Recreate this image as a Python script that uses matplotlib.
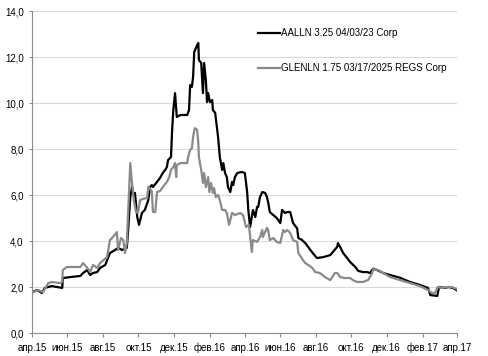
import numpy as np
import matplotlib
matplotlib.use('Agg')
import matplotlib.pyplot as plt

plt.rcParams['font.family'] = ['Liberation Sans', 'DejaVu Sans']

# days since 2015-04-01, yield values
aal_days = [0, 9, 17, 22, 34, 52, 53, 65, 83, 88, 95, 100, 105, 112, 117, 126, 134, 143, 148, 155,
            163, 165, 169, 172, 174, 177, 181, 184, 189, 194, 200, 203, 206, 208, 215, 220, 225, 229,
            232, 234, 239, 241, 243, 246, 249, 255, 267, 270, 272, 275, 277, 279, 284, 286, 287, 291,
            294, 296, 299, 301, 303, 306, 310, 311, 315, 318, 320, 323, 327, 329, 332, 335, 337, 341,
            344, 346, 349, 353, 361, 366, 370, 372, 375, 380, 384, 387, 389, 392, 396, 401, 404, 406,
            409, 413, 421, 427, 430, 435, 439, 444, 449, 456, 458, 464, 470, 482, 490, 501, 513, 516,
            525, 526, 530, 535, 542, 547, 556, 561, 569, 576, 581, 587, 593, 604, 616, 633, 650, 667,
            681, 685, 697, 700, 710, 716, 724, 731]
aal_vals = [1.78, 1.87, 1.74, 1.96, 2.04, 1.96, 2.39, 2.43, 2.48, 2.61, 2.74, 2.52, 2.61, 2.65, 2.83,
            2.96, 3.48, 3.61, 3.70, 3.61, 3.70, 4.35, 5.91, 6.35, 6.09, 6.09, 5.04, 4.70, 5.22, 5.35,
            5.78, 6.35, 6.43, 6.35, 6.57, 6.74, 6.96, 7.09, 7.22, 7.52, 7.65, 8.83, 9.70, 10.43, 9.39,
            9.48, 9.48, 9.70, 10.78, 10.70, 11.13, 12.22, 12.52, 12.61, 11.87, 11.74, 10.43, 11.74,
            11.00, 10.04, 10.43, 10.04, 10.13, 9.70, 9.57, 8.96, 8.52, 7.65, 7.09, 7.39, 6.96, 6.78,
            6.35, 6.13, 6.57, 6.43, 6.78, 6.96, 7.00, 6.96, 6.13, 5.35, 4.61, 5.35, 5.04, 5.48, 5.48,
            5.91, 6.13, 6.09, 5.91, 5.70, 5.26, 5.17, 5.00, 4.78, 5.35, 5.22, 5.26, 5.26, 4.78, 4.55,
            4.13, 4.05, 3.91, 3.50, 3.26, 3.30, 3.39, 3.48, 3.75, 3.91, 3.74, 3.48, 3.26, 3.09, 2.87,
            2.70, 2.65, 2.65, 2.61, 2.80, 2.74, 2.61, 2.52, 2.40, 2.22, 2.09, 1.96, 1.65, 1.61, 2.00,
            1.96, 2.00, 1.96, 1.85]

glen_days = [0, 10, 19, 28, 34, 48, 52, 53, 60, 83, 88, 95, 100, 105, 112, 117, 129, 134, 139, 146,
             148, 153, 157, 160, 163, 165, 169, 172, 175, 179, 182, 186, 191, 198, 200, 206, 208, 212,
             215, 220, 225, 232, 236, 239, 243, 246, 248, 249, 255, 267, 268, 272, 275, 277, 280, 284,
             286, 287, 291, 294, 296, 299, 303, 305, 308, 311, 313, 316, 320, 323, 327, 332, 335, 339,
             344, 349, 358, 363, 368, 373, 378, 380, 387, 392, 396, 397, 404, 406, 409, 415, 421, 427,
             432, 435, 439, 444, 449, 456, 458, 466, 470, 475, 482, 487, 495, 504, 513, 521, 525, 530,
             538, 547, 552, 559, 569, 578, 585, 587, 595, 604, 616, 633, 650, 667, 681, 688, 693, 698,
             705, 714, 722, 731]
glen_vals = [1.74, 1.87, 1.78, 2.17, 2.22, 2.17, 2.22, 2.74, 2.87, 2.87, 3.04, 2.83, 2.65, 2.96, 2.83,
             3.04, 3.30, 4.04, 4.17, 4.39, 3.61, 4.13, 4.04, 3.48, 3.91, 5.04, 7.39, 6.52, 5.78, 5.26,
             5.22, 5.78, 5.83, 5.87, 6.35, 6.17, 5.26, 5.26, 6.13, 6.17, 6.35, 6.57, 6.78, 7.09, 7.22,
             7.39, 6.78, 7.30, 7.39, 7.39, 7.61, 7.96, 8.04, 8.52, 8.91, 8.83, 8.26, 7.65, 7.09, 6.52,
             6.96, 6.35, 6.78, 6.13, 6.52, 6.09, 6.30, 5.91, 6.00, 5.78, 5.35, 5.35, 5.22, 4.70, 5.22,
             5.13, 5.22, 5.13, 4.61, 4.70, 3.52, 4.04, 3.96, 4.17, 4.48, 4.17, 4.57, 4.48, 4.04, 4.13,
             3.96, 3.91, 4.48, 4.39, 4.48, 4.35, 4.04, 3.96, 3.48, 3.17, 3.04, 2.96, 2.83, 2.65, 2.61,
             2.43, 2.30, 2.61, 2.61, 2.43, 2.39, 2.39, 2.30, 2.22, 2.22, 2.30, 2.61, 2.78, 2.74, 2.61,
             2.43, 2.30, 2.17, 2.04, 1.87, 1.74, 1.74, 2.00, 1.96, 2.00, 2.00, 1.91]

tick_dates = ['2015-04-01', '2015-06-01', '2015-08-01', '2015-10-01', '2015-12-01', '2016-02-01',
              '2016-04-01', '2016-06-01', '2016-08-01', '2016-10-01', '2016-12-01', '2017-02-01',
              '2017-04-01']
tick_labels = ['апр.15', 'июн.15', 'авг.15', 'окт.15', 'дек.15', 'фев.16', 'апр.16', 'июн.16',
               'авг.16', 'окт.16', 'дек.16', 'фев.17', 'апр.17']

start = np.datetime64('2015-04-01')
aal_x = start + np.array(aal_days, dtype='timedelta64[D]')
glen_x = start + np.array(glen_days, dtype='timedelta64[D]')

fig = plt.figure(figsize=(4.88, 3.56), dpi=100)
ax = fig.add_axes([0.0656, 0.0646, 0.871, 0.9044])

ax.plot(aal_x, aal_vals, color='black', lw=1.6, label='AALLN 3.25 04/03/23 Corp')
ax.plot(glen_x, glen_vals, color='#8a8a8a', lw=1.6, label='GLENLN 1.75 03/17/2025 REGS Corp')

ax.set_ylim(0, 14)
ax.set_yticks(np.arange(0, 15, 2))
ax.set_yticklabels([('%.1f' % v).replace('.', ',') for v in np.arange(0, 15, 2)])
ax.set_xlim(np.datetime64('2015-04-01'), np.datetime64('2017-04-01'))
ax.set_xticks(np.array(tick_dates, dtype='datetime64[D]'))
ax.set_xticklabels(tick_labels)

ax.grid(axis='y', color='#d9d9d9', lw=0.8)
ax.set_axisbelow(True)
for s in ['top', 'right']:
    ax.spines[s].set_visible(False)
for s in ['left', 'bottom']:
    ax.spines[s].set_color('#8c8c8c')
    ax.spines[s].set_linewidth(0.8)
ax.tick_params(axis='y', length=2, width=0.8, color='#8c8c8c', pad=4, labelsize=7)
ax.tick_params(axis='x', length=3, width=0.8, color='#8c8c8c', pad=4, labelsize=7)

ax.legend(loc='upper left', bbox_to_anchor=(0.528, 0.921), bbox_transform=fig.transFigure,
          frameon=False, fontsize=7, handlelength=2.3, handletextpad=0.1,
          labelspacing=2.6, borderpad=0, borderaxespad=0)

fig.savefig('out.png', dpi=100)
